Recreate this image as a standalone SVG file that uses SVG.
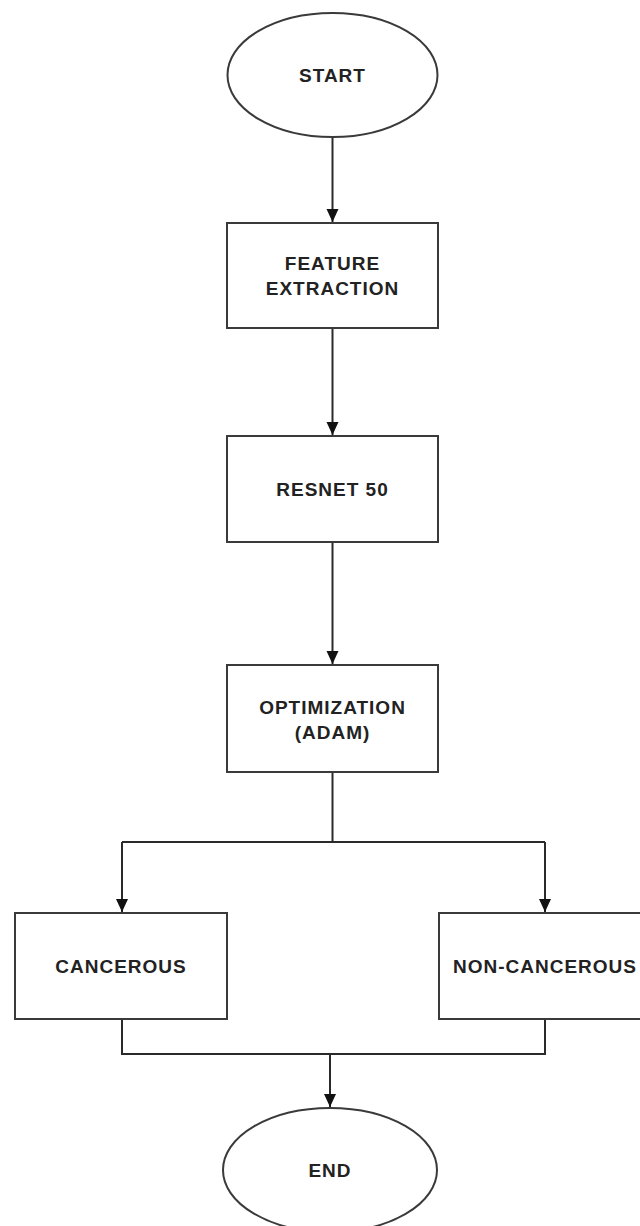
<svg xmlns="http://www.w3.org/2000/svg" width="640" height="1226" viewBox="0 0 640 1226">
  <style>
    .shape { fill: #ffffff; stroke: #3a3a3a; stroke-width: 2; }
    .edge { fill: none; stroke: #2a2a2a; stroke-width: 2; }
    .label { font-family: "Liberation Sans", Arial, sans-serif; font-weight: bold; font-size: 19px; letter-spacing: 1px; fill: #222222; text-anchor: middle; }
  </style>
  <defs>
    <marker id="arrow" markerUnits="userSpaceOnUse" markerWidth="13" markerHeight="13" refX="13" refY="6" orient="auto">
      <path d="M0,0 L13,6 L0,12 z" fill="#111111"/>
    </marker>
  </defs>
  <rect width="640" height="1226" fill="#ffffff"/>

  <g id="connectors">
    <line class="edge" x1="332.5" y1="137" x2="332.5" y2="222" marker-end="url(#arrow)"/>
    <line class="edge" x1="332.5" y1="328" x2="332.5" y2="435" marker-end="url(#arrow)"/>
    <line class="edge" x1="332.5" y1="542" x2="332.5" y2="664" marker-end="url(#arrow)"/>
    <polyline class="edge" points="332.5,772 332.5,842"/>
    <polyline class="edge" points="122,842 545,842"/>
    <line class="edge" x1="122" y1="842" x2="122" y2="912" marker-end="url(#arrow)"/>
    <line class="edge" x1="545" y1="842" x2="545" y2="912" marker-end="url(#arrow)"/>
    <polyline class="edge" points="122,1019 122,1054 545,1054 545,1019"/>
    <line class="edge" x1="330" y1="1054" x2="330" y2="1107" marker-end="url(#arrow)"/>
  </g>

  <g id="start">
    <ellipse class="shape" cx="332.5" cy="75" rx="105" ry="62"/>
    <text class="label" x="332.5" y="82">START</text>
  </g>

  <g id="feature-extraction">
    <rect class="shape" x="227" y="223" width="211" height="105"/>
    <text class="label" x="332.5" y="270">FEATURE</text>
    <text class="label" x="332.5" y="295">EXTRACTION</text>
  </g>

  <g id="resnet50">
    <rect class="shape" x="227" y="436" width="211" height="106"/>
    <text class="label" x="332.5" y="496">RESNET 50</text>
  </g>

  <g id="optimization">
    <rect class="shape" x="227" y="665" width="211" height="107"/>
    <text class="label" x="332.5" y="714">OPTIMIZATION</text>
    <text class="label" x="332.5" y="739">(ADAM)</text>
  </g>

  <g id="cancerous">
    <rect class="shape" x="15" y="913" width="212" height="106"/>
    <text class="label" x="121" y="973">CANCEROUS</text>
  </g>

  <g id="non-cancerous">
    <rect class="shape" x="439" y="913" width="212" height="106"/>
    <text class="label" x="545" y="973">NON-CANCEROUS</text>
  </g>

  <g id="end">
    <ellipse class="shape" cx="330" cy="1170" rx="107" ry="62"/>
    <text class="label" x="330" y="1177">END</text>
  </g>
</svg>
